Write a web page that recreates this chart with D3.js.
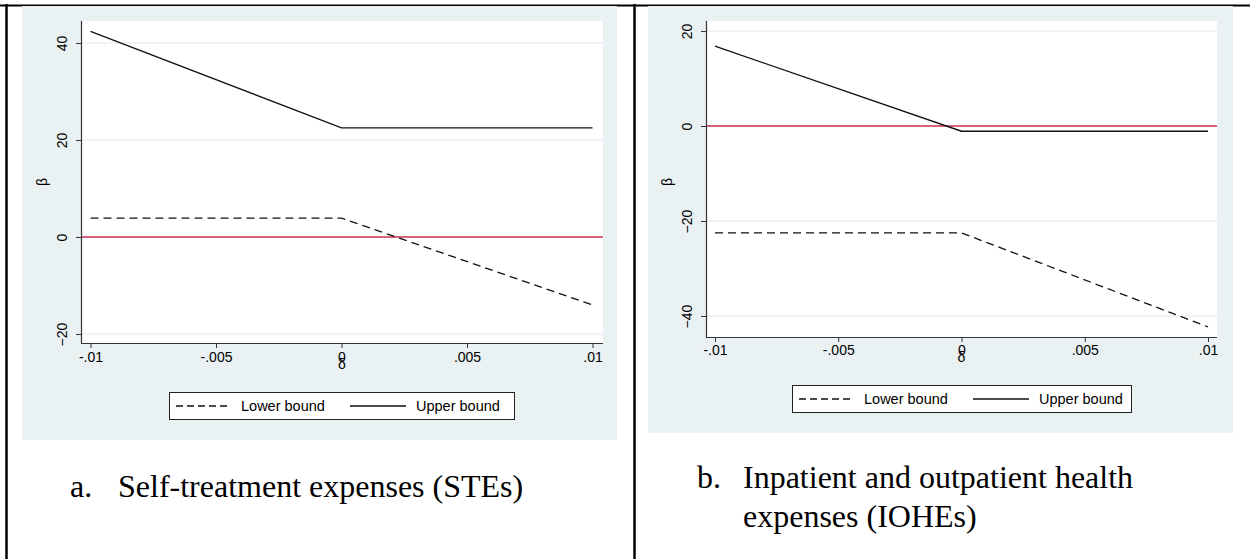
<!DOCTYPE html>
<html><head><meta charset="utf-8">
<script src="https://cdn.jsdelivr.net/npm/d3@7"></script>
<style>body{margin:0;background:#fff;} svg{display:block}</style>
</head><body>
<svg id="c" width="1250" height="559"></svg>
<script>
// ---- data ----
const delta = [-0.01, 0, 0.01];
const xTicks = [-0.01, -0.005, 0, 0.005, 0.01];
const xTickLabels = ["-.01", "-.005", "0", ".005", ".01"];
const steLower = [3.9, 3.9, -14.0];
const steUpper = [42.4, 22.5, 22.5];
const steYTicks = [-20, 0, 20, 40];
const ioheLower = [-22.5, -22.5, -42.3];
const ioheUpper = [16.8, -1.1, -1.1];
const ioheYTicks = [-40, -20, 0, 20];
const legendLabels = ["Lower bound", "Upper bound"];
const captionA = ["a.", "Self-treatment expenses (STEs)"];
const captionB = ["b.", "Inpatient and outpatient health", "expenses (IOHEs)"];
const xTitle = "δ";
const yTitle = "β";

const svg = d3.select("#c");
const SANS = "'Liberation Sans', Arial, sans-serif";
const SERIF = "'Liberation Serif', 'Times New Roman', serif";
const BG = "#eaf1f3";
const GRID = "#eaf1f3";
const REF = "#c9304f";

// table borders
svg.append("line").attr("x1",0).attr("x2",1250).attr("y1",5.5).attr("y2",5.5).attr("stroke","#000").attr("stroke-width",2);
svg.append("line").attr("x1",6.5).attr("x2",6.5).attr("y1",4).attr("y2",559).attr("stroke","#000").attr("stroke-width",2.5);
svg.append("line").attr("x1",634.5).attr("x2",634.5).attr("y1",4).attr("y2",559).attr("stroke","#000").attr("stroke-width",2.5);

function panel(cfg){
  const g = svg.append("g");
  g.append("rect").attr("x",cfg.bg[0]).attr("y",cfg.bg[1]).attr("width",cfg.bg[2]).attr("height",cfg.bg[3]).attr("fill",BG);
  const p = cfg.plot;
  g.append("rect").attr("x",p.x0).attr("y",p.y0).attr("width",p.x1-p.x0).attr("height",p.y1-p.y0).attr("fill","#fff");
  const x = d3.scaleLinear().domain([-0.01,0.01]).range(cfg.xRange);
  const y = d3.scaleLinear().domain([cfg.yTicks[0], cfg.yTicks[cfg.yTicks.length-1]]).range(cfg.yRange);
  // grid
  g.selectAll(".grid").data(cfg.yTicks.filter(d=>d!==0)).join("line")
    .attr("x1",p.x0).attr("x2",p.x1).attr("y1",d=>y(d)).attr("y2",d=>y(d))
    .attr("stroke",GRID).attr("stroke-width",1.5);
  // reference line
  g.append("line").attr("x1",p.x0).attr("x2",p.x1).attr("y1",y(0)).attr("y2",y(0)).attr("stroke",REF).attr("stroke-width",1.4);
  // series
  const line = d3.line().x((d,i)=>x(delta[i])).y(d=>y(d));
  g.append("path").attr("d",line(cfg.lower)).attr("fill","none").attr("stroke","#111").attr("stroke-width",1.3).attr("stroke-dasharray","8,5");
  g.append("path").attr("d",line(cfg.upper)).attr("fill","none").attr("stroke","#111").attr("stroke-width",1.3);
  // y axis
  const ya = g.append("g").attr("transform",`translate(${p.x0},0)`)
    .call(d3.axisLeft(y).tickValues(cfg.yTicks).tickSize(5).tickSizeOuter(0));
  ya.select(".domain").remove();
  ya.selectAll(".tick line").attr("stroke","#333");
  ya.selectAll(".tick text").attr("x",0).attr("dy",null).attr("y",0)
    .attr("transform","translate(-14,0) rotate(-90)").attr("text-anchor","middle")
    .attr("font-family",SANS).attr("font-size",14).attr("fill","#000");
  g.append("line").attr("x1",p.x0+0.5).attr("x2",p.x0+0.5).attr("y1",p.y0).attr("y2",p.y1).attr("stroke","#333").attr("stroke-width",1.2);
  // x axis
  const xa = g.append("g").attr("transform",`translate(0,${p.y1})`)
    .call(d3.axisBottom(x).tickValues(xTicks).tickFormat((d,i)=>xTickLabels[i]).tickSize(5).tickPadding(cfg.xPad).tickSizeOuter(0));
  xa.select(".domain").remove();
  xa.selectAll(".tick line").attr("stroke","#333");
  xa.selectAll(".tick text").attr("font-family",SANS).attr("font-size",14).attr("fill","#000");
  g.append("line").attr("x1",p.x0).attr("x2",p.x1).attr("y1",p.y1+0.5).attr("y2",p.y1+0.5).attr("stroke","#333").attr("stroke-width",1.2);
  // titles
  g.append("text").attr("x",(p.x0+p.x1)/2).attr("y",cfg.xTitleY).attr("text-anchor","middle")
    .attr("font-family",SANS).attr("font-size",14).text(xTitle);
  g.append("text").attr("transform",`translate(${cfg.yTitleX},${cfg.yTitleY}) rotate(-90)`).attr("text-anchor","middle")
    .attr("font-family",SANS).attr("font-size",14).text(yTitle);
  // legend
  const L = cfg.legend;
  g.append("rect").attr("x",L.x+0.5).attr("y",L.y+0.5).attr("width",L.w).attr("height",L.h).attr("fill","#fff").attr("stroke","#222").attr("stroke-width",1);
  const ly = L.y + L.h/2 + 0.5;
  g.append("line").attr("x1",L.x+7).attr("x2",L.x+62).attr("y1",ly).attr("y2",ly).attr("stroke","#111").attr("stroke-width",1.3).attr("stroke-dasharray","7,4");
  g.append("text").attr("x",L.x+72).attr("y",ly+5).attr("font-family",SANS).attr("font-size",14.5).text(legendLabels[0]);
  g.append("line").attr("x1",L.x+181).attr("x2",L.x+237).attr("y1",ly).attr("y2",ly).attr("stroke","#111").attr("stroke-width",1.3);
  g.append("text").attr("x",L.x+247).attr("y",ly+5).attr("font-family",SANS).attr("font-size",14.5).text(legendLabels[1]);
  // caption
  const C = cfg.caption;
  g.append("text").attr("x",C.x).attr("y",C.y).attr("font-family",SERIF).attr("font-size",32).text(C.text[0]);
  C.text.slice(1).forEach((t,i)=>{
    g.append("text").attr("x",C.x2).attr("y",C.y+i*39).attr("font-family",SERIF).attr("font-size",32).text(t);
  });
}

panel({
  bg:[22,6,595,434],
  plot:{x0:81,x1:603,y0:21,y1:343},
  xRange:[90.5,592.5],
  yTicks:steYTicks, yRange:[334,43],
  lower:steLower, upper:steUpper,
  xPad:4, xTitleY:369, yTitleX:47, yTitleY:182,
  legend:{x:169,y:392,w:345,h:27},
  caption:{x:70,x2:118,y:497,text:captionA}
});
panel({
  bg:[648,6,585,427],
  plot:{x0:706,x1:1217,y0:21,y1:337},
  xRange:[715,1208],
  yTicks:ioheYTicks, yRange:[316,31],
  lower:ioheLower, upper:ioheUpper,
  xPad:3, xTitleY:362, yTitleX:672, yTitleY:182,
  legend:{x:792,y:385,w:339,h:27},
  caption:{x:697,x2:743,y:488,text:captionB}
});
</script>
</body></html>
